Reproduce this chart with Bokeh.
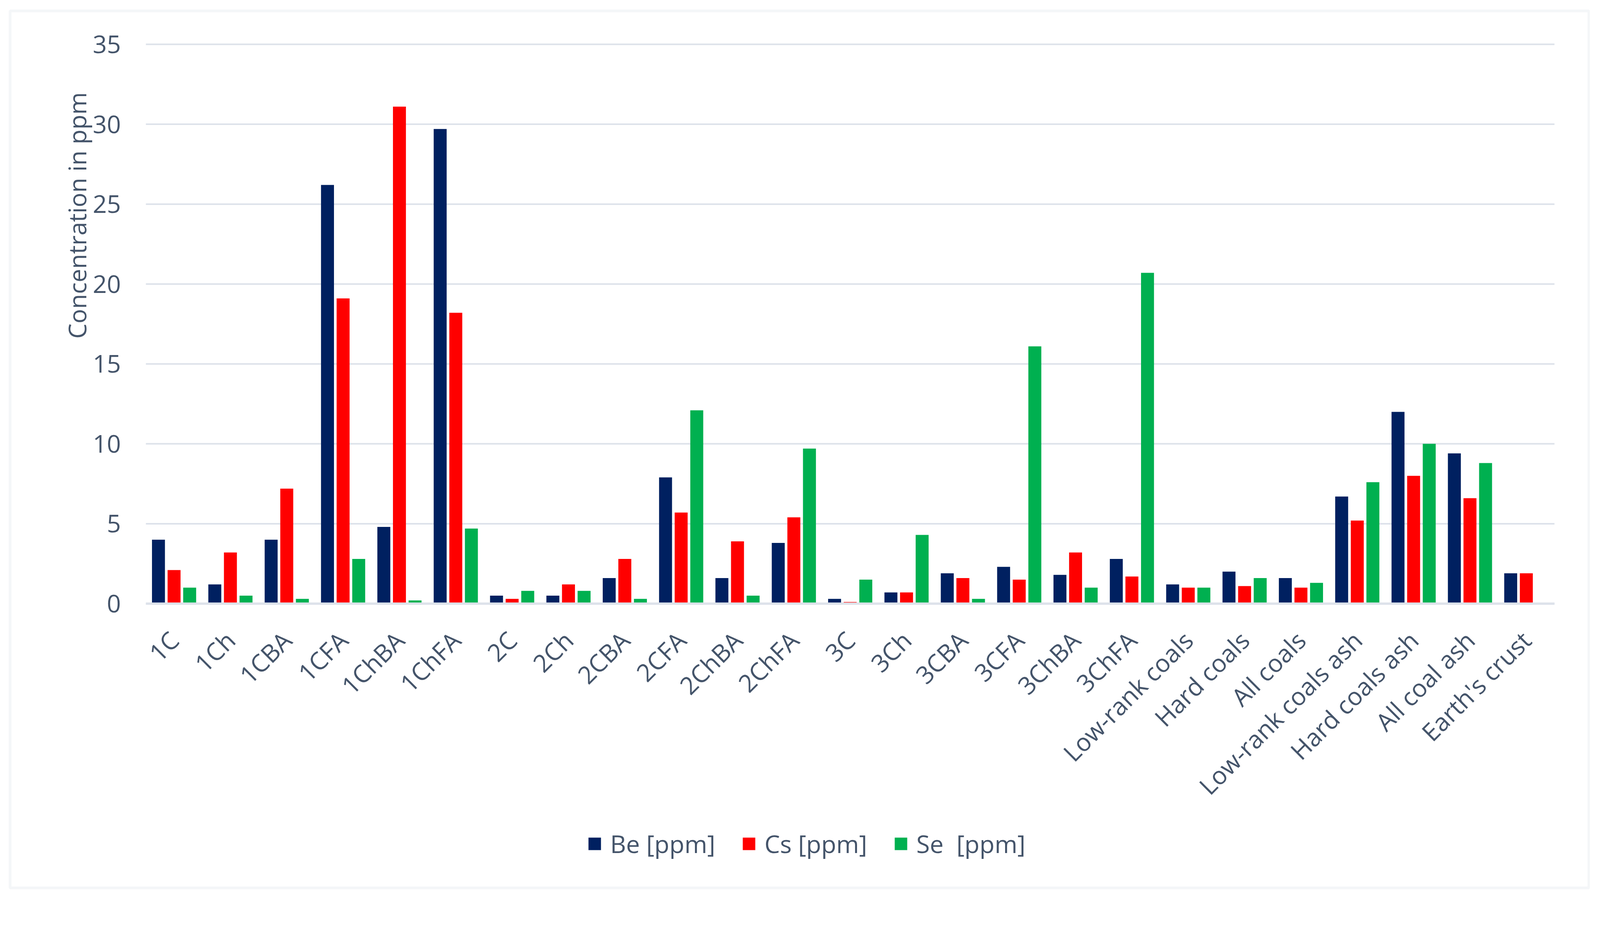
import math
from bokeh.plotting import figure
from bokeh.models import (ColumnDataSource, Range1d, Legend, LegendItem, FixedTicker,
                          Label, BoxAnnotation)
from bokeh.transform import dodge
from bokeh.embed import file_html
from bokeh.resources import INLINE

NaN = float("nan")

categories = ["1C", "1Ch", "1CBA", "1CFA", "1ChBA", "1ChFA", "2C", "2Ch", "2CBA",
              "2CFA", "2ChBA", "2ChFA", "3C", "3Ch", "3CBA", "3CFA", "3ChBA", "3ChFA",
              "Low-rank coals", "Hard coals", "All coals", "Low-rank coals ash",
              "Hard coals ash", "All coal ash", "Earth's crust"]
be = [4.0, 1.2, 4.0, 26.2, 4.8, 29.7, 0.5, 0.5, 1.6, 7.9, 1.6, 3.8, 0.3, 0.7, 1.9,
      2.3, 1.8, 2.8, 1.2, 2.0, 1.6, 6.7, 12.0, 9.4, 1.9]
cs = [2.1, 3.2, 7.2, 19.1, 31.1, 18.2, 0.3, 1.2, 2.8, 5.7, 3.9, 5.4, 0.1, 0.7, 1.6,
      1.5, 3.2, 1.7, 1.0, 1.1, 1.0, 5.2, 8.0, 6.6, 1.9]
se = [1.0, 0.5, 0.3, 2.8, 0.2, 4.7, 0.8, 0.8, 0.3, 12.1, 0.5, 9.7, 1.5, 4.3, 0.3,
      16.1, 1.0, 20.7, 1.0, 1.6, 1.3, 7.6, 10.0, 8.8, NaN]
y_ticks = [0, 5, 10, 15, 20, 25, 30, 35]
series_names = ["Be [ppm]", "Cs [ppm]", "Se  [ppm]"]
series_colors = ["#002060", "#FF0000", "#00B050"]
y_title = "Concentration in ppm"

FONT = "Open Sans"
FS = "63px"
TXT = "#44546A"
GRID = "#DDE2EA"
BORDER = "#DCE1E9"

n = len(categories)
xpos = [i + 1 for i in range(n)]          # category slots on a numeric scale
src = ColumnDataSource(dict(x=xpos, be=be, cs=cs, se=se))

W, H = 4070, 2284
p = figure(x_range=Range1d(-2.086, 26.131), y_range=Range1d(-18.064, 37.762),
           width=W, height=H, output_backend="svg", toolbar_location=None,
           min_border=0, min_border_left=0, min_border_right=0,
           min_border_top=0, min_border_bottom=0)
p.outline_line_color = None
p.background_fill_color = "white"
p.border_fill_color = "white"
p.xgrid.visible = False
p.ygrid.visible = False

# horizontal gridlines across the plot area
p.segment(x0=[0.5] * len(y_ticks), x1=[n + 0.5] * len(y_ticks), y0=y_ticks, y1=y_ticks,
          line_color=GRID, line_width=4)

r_be = p.vbar(x=dodge("x", -0.277), top="be", width=0.23, source=src,
              fill_color=series_colors[0], line_color=None)
r_cs = p.vbar(x=dodge("x", 0.0), top="cs", width=0.23, source=src,
              fill_color=series_colors[1], line_color=None)
r_se = p.vbar(x=dodge("x", 0.277), top="se", width=0.23, source=src,
              fill_color=series_colors[2], line_color=None)

xa = p.xaxis[0]
ya = p.yaxis[0]
for ax in (xa, ya):
    ax.major_tick_line_color = None
    ax.minor_tick_line_color = None
    ax.major_label_text_font = FONT
    ax.major_label_text_font_size = FS
    ax.major_label_text_color = TXT

xa.fixed_location = 0
xa.bounds = (0.5, n + 0.5)
xa.ticker = FixedTicker(ticks=xpos)
xa.major_label_overrides = {x: c for x, c in zip(xpos, categories)}
xa.axis_line_color = GRID
xa.axis_line_width = 6
xa.major_label_orientation = math.pi / 4
xa.major_label_standoff = 76

ya.fixed_location = 0.5
ya.bounds = (0, 35)
ya.ticker = FixedTicker(ticks=y_ticks)
ya.axis_line_color = None
ya.major_label_standoff = 58

p.add_layout(Label(x=-0.723, y=24.29, text=y_title, angle=math.pi / 2,
                   text_align="center", text_baseline="middle",
                   text_font=FONT, text_font_size="62px", text_color=TXT))

p.add_layout(BoxAnnotation(left=-1.911, right=26.11, top=37.09, bottom=-17.79,
                           fill_color=None, fill_alpha=0, line_color=BORDER,
                           line_width=7))

legend = Legend(items=[LegendItem(label=series_names[0], renderers=[r_be]),
                       LegendItem(label=series_names[1], renderers=[r_cs]),
                       LegendItem(label=series_names[2], renderers=[r_se])],
                orientation="horizontal", location=(1502, 82),
                glyph_width=40, glyph_height=40, label_standoff=20, spacing=66,
                padding=0, margin=0, border_line_color=None,
                background_fill_alpha=0,
                label_text_font=FONT, label_text_font_size=FS,
                label_text_color=TXT)
p.add_layout(legend, "center")

open("out.html", "w").write(file_html(p, INLINE))
